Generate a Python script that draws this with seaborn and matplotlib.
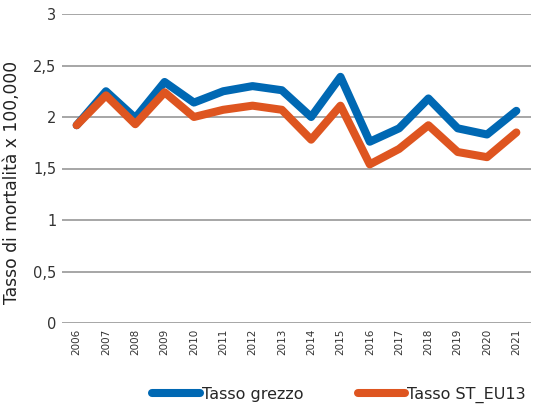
import matplotlib
matplotlib.use("Agg")
import matplotlib.pyplot as plt
import seaborn as sns
import pandas as pd

# values
years = [str(y) for y in range(2006, 2022)]
tasso_grezzo = [1.92, 2.25, 1.99, 2.34, 2.14, 2.25, 2.30, 2.26, 2.00, 2.39,
                1.76, 1.89, 2.18, 1.89, 1.83, 2.06]
tasso_st_eu13 = [1.92, 2.21, 1.93, 2.24, 2.00, 2.07, 2.11, 2.07, 1.78, 2.11,
                 1.54, 1.69, 1.92, 1.66, 1.61, 1.85]
series_names = ["Tasso grezzo", "Tasso ST_EU13"]
y_ticks = [0, 0.5, 1, 1.5, 2, 2.5, 3]
y_tick_labels = ["0", "0,5", "1", "1,5", "2", "2,5", "3"]

df = pd.DataFrame({
    "anno": years * 2,
    "valore": tasso_grezzo + tasso_st_eu13,
    "serie": [series_names[0]] * len(years) + [series_names[1]] * len(years),
})

sns.set_style("white")
plt.rcParams["font.family"] = ["DejaVu Sans"]

fig = plt.figure(figsize=(5.33, 4.13), dpi=100)
ax = fig.add_axes([62 / 533, 1 - 323 / 413, 469 / 533, 309 / 413])

sns.lineplot(data=df, x="anno", y="valore", hue="serie",
             palette=["#0068b3", "#de5520"], linewidth=5.8,
             solid_capstyle="round", solid_joinstyle="round",
             sort=False, ax=ax, legend=False)

ax.set_ylim(0, 3)
ax.set_xlim(-0.5, len(years) - 0.5)
ax.set_yticks(y_ticks)
ax.set_yticklabels(y_tick_labels, fontsize=10.5, color="#333333")
ax.set_xticks(range(len(years)))
ax.set_xticklabels(years, rotation=90, fontsize=7.5, color="#333333")
ax.tick_params(axis="both", length=0, pad=4)
ax.yaxis.grid(True, color="#a6a6a6", linewidth=1.4)
ax.set_axisbelow(True)
for s in ax.spines.values():
    s.set_visible(False)
ax.set_xlabel("")
ax.set_ylabel("Tasso di mortalità x 100,000", fontsize=12.3, color="#222222")
ax.yaxis.set_label_coords(-0.088, 0.455)

handles = [plt.Line2D([], [], color=c, linewidth=5.8, solid_capstyle="round")
           for c in ["#0068b3", "#de5520"]]
fig.legend(handles, series_names, loc="lower center", ncol=2, frameon=False,
           bbox_to_anchor=(0.636, -0.01), fontsize=11.5, handlelength=3.0,
           handletextpad=0.1, columnspacing=3.4)

fig.savefig("out.png", dpi=100)
